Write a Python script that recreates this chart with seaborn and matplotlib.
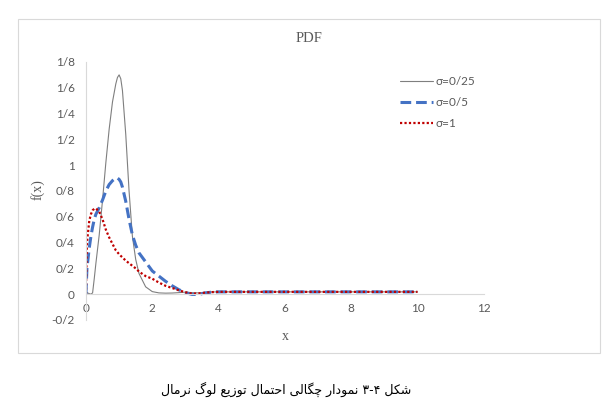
import pandas as pd
import matplotlib
matplotlib.use("Agg")
import matplotlib.pyplot as plt
from matplotlib.ticker import FuncFormatter
import seaborn as sns

# values (x, f(x))
X = [0, 0.01, 0.03, 0.1, 0.15, 0.2, 0.25, 0.3, 0.4, 0.5, 0.6, 0.7, 0.8, 0.9,
     0.95, 1.0, 1.05, 1.1, 1.2, 1.3, 1.4, 1.5, 1.6, 1.8, 2.0, 2.2, 2.4, 2.6,
     2.8, 3.0, 3.2, 3.4, 3.6, 3.8, 4, 5, 6, 7, 8, 9, 10]
PDF_S025 = [0.015, 0.014, 0.012, 0.004, 0.0, 0.01, 0.12, 0.24, 0.46, 0.73,
            1.02, 1.28, 1.49, 1.63, 1.68, 1.70, 1.67, 1.58, 1.24, 0.80, 0.45,
            0.27, 0.16, 0.057, 0.02, 0.01, 0.008, 0.009, 0.012, 0.016, 0.012,
            0.01, 0.014, 0.017, 0.018, 0.018, 0.018, 0.018, 0.018, 0.018,
            0.018]
PDF_S05 = [0.0, 0.08, 0.2, 0.36, 0.45, 0.52, 0.58, 0.62, 0.67, 0.73, 0.80,
           0.85, 0.88, 0.90, 0.90, 0.89, 0.87, 0.83, 0.72, 0.58, 0.46, 0.38,
           0.32, 0.25, 0.18, 0.14, 0.10, 0.065, 0.035, 0.012, -0.002, -0.002,
           0.01, 0.016, 0.018, 0.018, 0.018, 0.018, 0.018, 0.018, 0.018]
PDF_S1 = [0.0, 0.16, 0.40, 0.57, 0.62, 0.65, 0.662, 0.665, 0.64, 0.58, 0.50,
          0.44, 0.39, 0.34, 0.325, 0.31, 0.297, 0.285, 0.26, 0.24, 0.22, 0.20,
          0.175, 0.14, 0.12, 0.09, 0.065, 0.048, 0.03, 0.015, 0.004, 0.006,
          0.012, 0.016, 0.018, 0.018, 0.018, 0.018, 0.018, 0.018, 0.018]
SERIES = ["σ=0/25", "σ=0/5", "σ=1"]
Y_TICKS = [-0.2, 0, 0.2, 0.4, 0.6, 0.8, 1, 1.2, 1.4, 1.6, 1.8]
X_TICKS = [0, 2, 4, 6, 8, 10, 12]
CAPTION = "شکل ۴-۳ نمودار چگالی احتمال توزیع لوگ نرمال"

# matplotlib has no arabic shaping / bidi, so do it by hand
FORMS = {
    "ا": "\uFE8D\uFE8E", "د": "\uFEA9\uFEAA", "ر": "\uFEAD\uFEAE",
    "ز": "\uFEAF\uFEB0", "و": "\uFEED\uFEEE",
    "ت": "\uFE95\uFE96\uFE97\uFE98", "ح": "\uFEA1\uFEA2\uFEA3\uFEA4",
    "ش": "\uFEB5\uFEB6\uFEB7\uFEB8", "ع": "\uFEC9\uFECA\uFECB\uFECC",
    "ل": "\uFEDD\uFEDE\uFEDF\uFEE0", "م": "\uFEE1\uFEE2\uFEE3\uFEE4",
    "ن": "\uFEE5\uFEE6\uFEE7\uFEE8",
    "ک": "\uFB8E\uFB8F\uFB90\uFB91", "ك": "\uFB8E\uFB8F\uFB90\uFB91",
    "گ": "\uFB92\uFB93\uFB94\uFB95", "چ": "\uFB7A\uFB7B\uFB7C\uFB7D",
    "ی": "\uFBFC\uFBFD\uFBFE\uFBFF", "ي": "\uFBFC\uFBFD\uFBFE\uFBFF",
}


def shape_word(w):
    out = []
    for i, c in enumerate(w):
        f = FORMS.get(c)
        if f is None:
            out.append(c)
            continue
        prev = w[i - 1] if i > 0 else None
        nxt = w[i + 1] if i < len(w) - 1 else None
        jp = prev in FORMS and len(FORMS[prev]) == 4
        jn = len(f) == 4 and nxt in FORMS
        if jp and jn:
            out.append(f[3])
        elif jp:
            out.append(f[1])
        elif jn:
            out.append(f[2])
        else:
            out.append(f[0])
    return "".join(out)


def rtl(text):
    # the figure number is laid out right to left too, like in the source
    words = [shape_word(w)[::-1] for w in text.split(" ")]
    return " ".join(reversed(words))


sns.set_style("white")
plt.rcParams["font.family"] = ["Lato", "DejaVu Sans"]
GREY_TXT = "#595959"

df = pd.DataFrame({"x": X, SERIES[0]: PDF_S025, SERIES[1]: PDF_S05,
                   SERIES[2]: PDF_S1})

fig = plt.figure(figsize=(6.14, 4.07), dpi=100)
ax = fig.add_axes([0.140, 0.2138, 0.648, 0.6339])

sns.lineplot(data=df, x="x", y=SERIES[0], ax=ax, color="#7f7f7f",
             lw=0.8, label=SERIES[0], sort=False, estimator=None)
sns.lineplot(data=df, x="x", y=SERIES[1], ax=ax, color="#4472C4",
             lw=2.2, label=SERIES[1], sort=False, estimator=None)
sns.lineplot(data=df, x="x", y=SERIES[2], ax=ax, color="#C00000",
             lw=1.6, label=SERIES[2], sort=False, estimator=None)
lines = ax.get_lines()
lines[1].set_dashes((3.5, 1.6))
lines[2].set_dashes((1, 1))
lines[2].set_dash_capstyle("butt")
for ln in lines:
    ln.set_solid_joinstyle("round")

ax.set_xlim(0, 12)
ax.set_ylim(-0.2, 1.8)
ax.set_xticks(X_TICKS)
ax.set_yticks(Y_TICKS)
fmt = FuncFormatter(lambda v, p: f"{v:g}".replace(".", "/"))
ax.xaxis.set_major_formatter(fmt)
ax.yaxis.set_major_formatter(fmt)
ax.tick_params(axis="both", length=0, labelsize=8.5, labelcolor=GREY_TXT)
ax.tick_params(axis="y", pad=8)
ax.tick_params(axis="x", pad=6)

for s in ["top", "right"]:
    ax.spines[s].set_visible(False)
ax.spines["bottom"].set_position(("data", 0))
ax.spines["left"].set_position(("data", 0))
for s in ["bottom", "left"]:
    ax.spines[s].set_color("#d9d9d9")
    ax.spines[s].set_linewidth(0.8)

ax.set_xlabel("x", family="Liberation Serif", fontsize=10, color=GREY_TXT)
ax.set_ylabel("f(x)", family="Liberation Serif", fontsize=10, color=GREY_TXT)
ax.xaxis.set_label_coords(0.5, -0.037)
ax.yaxis.set_label_coords(-0.1045, 0.504)

fig.text(0.503, 0.906, "PDF", family="Liberation Serif", fontsize=10.5,
         color=GREY_TXT, ha="center", va="center")

leg = ax.legend(loc="upper left", bbox_to_anchor=(0.651, 0.813),
                bbox_transform=fig.transFigure, frameon=False, fontsize=8.5,
                handlelength=2.8, handletextpad=0.25, labelspacing=0.85,
                borderpad=0, borderaxespad=0)
for t in leg.get_texts():
    t.set_color(GREY_TXT)

fig.add_artist(plt.Rectangle((0.029, 0.1337), 0.948, 0.8191,
                             transform=fig.transFigure, fill=False,
                             ec="#d9d9d9", lw=0.8))

fig.text(0.466, 0.042, rtl(CAPTION), family=["DejaVu Sans"], fontsize=9,
         color="black", ha="center", va="center")

fig.savefig("out.png", dpi=100)
